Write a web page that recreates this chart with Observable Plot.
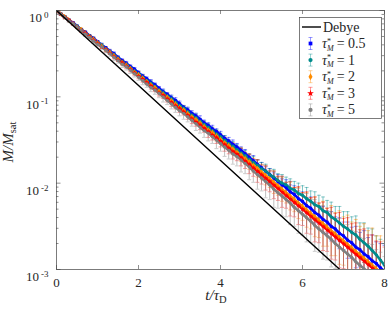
<!DOCTYPE html>
<html><head><meta charset="utf-8">
<script src="https://cdn.jsdelivr.net/npm/d3@7"></script>
<script src="https://cdn.jsdelivr.net/npm/@observablehq/plot@0.6"></script>
<style>body{margin:0;background:#fff}#chart svg{display:block}</style>
</head><body><div id="chart"></div>
<script>
// time grid (t / tau_D)
const tVals = [0,0.1,0.2,0.3,0.4,0.5,0.6,0.7,0.8,0.9,1,1.1,1.2,1.3,1.4,1.5,1.6,1.7,1.8,1.9,2,2.1,2.2,2.3,2.4,2.5,2.6,2.7,2.8,2.9,3,3.1,3.2,3.3,3.4,3.5,3.6,3.7,3.8,3.9,4,4.1,4.2,4.3,4.4,4.5,4.6,4.7,4.8,4.9,5,5.1,5.2,5.3,5.4,5.5,5.6,5.7,5.8,5.9,6,6.1,6.2,6.3,6.4,6.5,6.6,6.7,6.8,6.9,7,7.1,7.2,7.3,7.4,7.5,7.6,7.7,7.8,7.9,8];
// log10(M/Msat) for each tau*_M
const logM05 = [0,-0.04,-0.07,-0.11,-0.14,-0.18,-0.22,-0.25,-0.29,-0.32,-0.36,-0.40,-0.43,-0.47,-0.50,-0.54,-0.58,-0.61,-0.65,-0.68,-0.72,-0.76,-0.79,-0.83,-0.86,-0.90,-0.94,-0.97,-1.01,-1.04,-1.08,-1.12,-1.15,-1.19,-1.22,-1.26,-1.30,-1.33,-1.37,-1.40,-1.44,-1.48,-1.51,-1.55,-1.58,-1.62,-1.66,-1.70,-1.74,-1.78,-1.82,-1.86,-1.90,-1.94,-1.98,-2.02,-2.05,-2.10,-2.13,-2.18,-2.21,-2.26,-2.29,-2.34,-2.37,-2.42,-2.45,-2.50,-2.53,-2.58,-2.61,-2.66,-2.69,-2.74,-2.77,-2.82,-2.85,-2.90,-2.93,-2.98,-3.02];
const logM1 = [0,-0.04,-0.07,-0.11,-0.15,-0.18,-0.22,-0.26,-0.29,-0.33,-0.37,-0.40,-0.44,-0.48,-0.51,-0.55,-0.59,-0.62,-0.66,-0.70,-0.73,-0.77,-0.81,-0.84,-0.88,-0.92,-0.95,-0.99,-1.02,-1.06,-1.10,-1.13,-1.17,-1.21,-1.24,-1.28,-1.32,-1.35,-1.39,-1.43,-1.46,-1.50,-1.54,-1.57,-1.61,-1.65,-1.68,-1.72,-1.76,-1.79,-1.83,-1.86,-1.90,-1.93,-1.97,-2.00,-2.02,-2.06,-2.08,-2.12,-2.14,-2.18,-2.21,-2.25,-2.27,-2.32,-2.34,-2.39,-2.42,-2.46,-2.50,-2.53,-2.57,-2.60,-2.65,-2.69,-2.73,-2.78,-2.83,-2.89,-2.95];
const logM2 = [0,-0.04,-0.07,-0.11,-0.15,-0.19,-0.22,-0.26,-0.30,-0.33,-0.37,-0.41,-0.45,-0.48,-0.52,-0.56,-0.60,-0.63,-0.67,-0.71,-0.74,-0.78,-0.82,-0.86,-0.89,-0.93,-0.97,-1.00,-1.04,-1.08,-1.12,-1.15,-1.19,-1.23,-1.26,-1.30,-1.34,-1.38,-1.41,-1.45,-1.49,-1.53,-1.56,-1.60,-1.64,-1.67,-1.71,-1.75,-1.79,-1.83,-1.87,-1.91,-1.95,-1.99,-2.03,-2.07,-2.11,-2.15,-2.19,-2.23,-2.27,-2.31,-2.35,-2.39,-2.43,-2.47,-2.51,-2.55,-2.59,-2.63,-2.67,-2.71,-2.75,-2.79,-2.83,-2.87,-2.91,-2.95,-2.99,-3.03,-3.07];
const logM3 = [0,-0.04,-0.08,-0.11,-0.15,-0.19,-0.23,-0.26,-0.30,-0.34,-0.38,-0.42,-0.45,-0.49,-0.53,-0.57,-0.60,-0.64,-0.68,-0.72,-0.76,-0.79,-0.83,-0.87,-0.91,-0.95,-0.98,-1.02,-1.06,-1.10,-1.13,-1.17,-1.21,-1.25,-1.29,-1.32,-1.36,-1.40,-1.44,-1.47,-1.51,-1.55,-1.59,-1.63,-1.66,-1.70,-1.74,-1.78,-1.82,-1.86,-1.90,-1.94,-1.98,-2.02,-2.06,-2.10,-2.14,-2.18,-2.22,-2.26,-2.30,-2.34,-2.38,-2.42,-2.46,-2.50,-2.54,-2.58,-2.62,-2.66,-2.70,-2.74,-2.78,-2.82,-2.86,-2.90,-2.94,-2.98,-3.02,-3.06,-3.10];
const logM5 = [0,-0.04,-0.08,-0.12,-0.15,-0.19,-0.23,-0.27,-0.31,-0.35,-0.39,-0.42,-0.46,-0.50,-0.54,-0.58,-0.62,-0.65,-0.69,-0.73,-0.77,-0.81,-0.85,-0.89,-0.92,-0.96,-1.00,-1.04,-1.08,-1.12,-1.16,-1.19,-1.23,-1.27,-1.31,-1.35,-1.39,-1.42,-1.46,-1.50,-1.54,-1.58,-1.62,-1.66,-1.69,-1.73,-1.77,-1.81,-1.86,-1.90,-1.94,-1.98,-2.02,-2.07,-2.11,-2.15,-2.19,-2.23,-2.28,-2.32,-2.36,-2.40,-2.44,-2.49,-2.53,-2.57,-2.61,-2.65,-2.70,-2.74,-2.78,-2.82,-2.86,-2.91,-2.95,-2.99,-3.03,-3.07,-3.11,-3.16,-3.20];
// error bar half-widths (decades)
const err05 = [0,0.01,0.01,0.01,0.01,0.01,0.01,0.01,0.01,0.01,0.01,0.02,0.01,0.02,0.02,0.01,0.02,0.02,0.02,0.02,0.02,0.02,0.02,0.03,0.02,0.02,0.03,0.02,0.03,0.03,0.03,0.02,0.03,0.03,0.03,0.04,0.03,0.03,0.04,0.03,0.04,0.03,0.04,0.05,0.04,0.04,0.05,0.04,0.06,0.05,0.06,0.05,0.07,0.06,0.08,0.07,0.09,0.08,0.10,0.09,0.11,0.09,0.13,0.12,0.10,0.15,0.13,0.17,0.14,0.18,0.16,0.21,0.18,0.24,0.20,0.27,0.22,0.30,0.25,0.28,0.30];
const err1 = [0,0.01,0.01,0.01,0.01,0.01,0.01,0.02,0.01,0.02,0.02,0.02,0.01,0.02,0.02,0.02,0.02,0.02,0.02,0.03,0.02,0.03,0.02,0.03,0.03,0.02,0.03,0.03,0.03,0.03,0.03,0.03,0.04,0.03,0.04,0.03,0.04,0.04,0.04,0.05,0.04,0.05,0.04,0.05,0.06,0.05,0.06,0.05,0.07,0.06,0.07,0.08,0.07,0.09,0.08,0.10,0.09,0.11,0.10,0.12,0.11,0.13,0.12,0.15,0.13,0.16,0.14,0.17,0.15,0.19,0.17,0.20,0.18,0.22,0.19,0.23,0.21,0.25,0.22,0.24,0.25];
const err2 = [0,0.01,0.01,0.01,0.01,0.01,0.02,0.01,0.02,0.02,0.02,0.02,0.02,0.02,0.02,0.02,0.03,0.02,0.02,0.03,0.03,0.02,0.03,0.03,0.03,0.03,0.03,0.04,0.03,0.04,0.03,0.04,0.04,0.04,0.05,0.04,0.05,0.04,0.05,0.06,0.05,0.06,0.05,0.07,0.06,0.08,0.07,0.09,0.08,0.10,0.09,0.11,0.10,0.13,0.11,0.14,0.12,0.16,0.14,0.18,0.16,0.20,0.18,0.23,0.20,0.26,0.22,0.29,0.25,0.31,0.28,0.34,0.30,0.37,0.33,0.40,0.36,0.43,0.38,0.42,0.40];
const err3 = [0,0.01,0.01,0.01,0.02,0.01,0.02,0.02,0.02,0.02,0.02,0.02,0.03,0.02,0.03,0.02,0.03,0.03,0.03,0.03,0.03,0.04,0.03,0.04,0.03,0.04,0.04,0.04,0.05,0.04,0.05,0.04,0.05,0.06,0.05,0.06,0.05,0.07,0.06,0.07,0.07,0.08,0.07,0.09,0.08,0.10,0.09,0.11,0.10,0.13,0.11,0.14,0.12,0.16,0.14,0.18,0.15,0.20,0.17,0.22,0.19,0.24,0.21,0.26,0.23,0.28,0.25,0.30,0.27,0.32,0.29,0.34,0.31,0.36,0.32,0.37,0.34,0.38,0.35,0.38,0.36];
const err5 = [0,0.01,0.02,0.02,0.02,0.02,0.02,0.03,0.02,0.03,0.03,0.03,0.03,0.03,0.04,0.03,0.04,0.04,0.04,0.04,0.04,0.05,0.04,0.05,0.05,0.05,0.06,0.05,0.06,0.06,0.06,0.07,0.06,0.07,0.08,0.07,0.08,0.09,0.08,0.10,0.09,0.11,0.10,0.12,0.11,0.14,0.12,0.15,0.13,0.17,0.15,0.19,0.17,0.21,0.18,0.23,0.20,0.25,0.22,0.26,0.24,0.28,0.25,0.30,0.27,0.31,0.28,0.32,0.29,0.33,0.30,0.34,0.31,0.35,0.32,0.35,0.33,0.36,0.34,0.36,0.35];
// Debye reference exp(-t)
const debyeT = [0, 6.91];
const debyeM = [1, 0.001];
const tauLabels = ["0.5", "1", "2", "3", "5"];
const xTicks = [0, 2, 4, 6, 8];
const yTicks = [0.001, 0.01, 0.1, 1];
const yMinor = [0.002,0.003,0.004,0.005,0.006,0.007,0.008,0.009,0.02,0.03,0.04,0.05,0.06,0.07,0.08,0.09,0.2,0.3,0.4,0.5,0.6,0.7,0.8,0.9];

const colors = ["#0000ff", "#008b8b", "#ff8c00", "#ff0000", "#808080"];
const symbols = ["square", "circle", "diamond", "star", "circle"];
const logs = [logM05, logM1, logM2, logM3, logM5];
const errs = [err05, err1, err2, err3, err5];

const W = 390, H = 312, ML = 56, MR = 6, MT = 10, MB = 43;
const PW = W - ML - MR, PH = H - MT - MB;
const axisColor = "#444";
const FONT = "'Liberation Serif', 'DejaVu Serif', serif";

const series = logs.map((lg, k) => tVals.map((t, i) => ({
  t, y: 10 ** lg[i], lo: 10 ** (lg[i] - errs[k][i]), hi: 10 ** (lg[i] + errs[k][i]), k
})));
const debye = debyeT.map((t, i) => ({t, y: debyeM[i]}));

const cap = {draw(ctx, size) { const r = Math.sqrt(size / Math.PI); ctx.moveTo(-r, 0); ctx.lineTo(r, 0); }};

const marks = [];
series.forEach((rows, k) => {
  marks.push(Plot.ruleX(rows, {x: "t", y1: "lo", y2: "hi", stroke: colors[k], strokeOpacity: 0.5, strokeWidth: 1, clip: true}));
  marks.push(Plot.dot(rows, {x: "t", y: "lo", symbol: cap, r: 2, stroke: colors[k], strokeOpacity: 0.45, strokeWidth: 0.9, clip: true}));
  marks.push(Plot.dot(rows, {x: "t", y: "hi", symbol: cap, r: 2, stroke: colors[k], strokeOpacity: 0.45, strokeWidth: 0.9, clip: true}));
});
series.forEach((rows, k) => {
  marks.push(Plot.line(rows, {x: "t", y: "y", stroke: colors[k], strokeWidth: 2.6, clip: true}));
});
series.forEach((rows, k) => {
  marks.push(Plot.dot(rows, {x: "t", y: "y", symbol: symbols[k], r: 1.6, fill: colors[k], stroke: "none", clip: true}));
});
marks.push(Plot.line(debye, {x: "t", y: "y", stroke: "black", strokeWidth: 1.4, clip: true}));
// inward ticks
const tk = {stroke: axisColor, strokeWidth: 0.6};
marks.push(Plot.tickY(yTicks, {y: d => d, insetRight: PW - 4.5, ...tk}));
marks.push(Plot.tickY(yTicks, {y: d => d, insetLeft: PW - 4.5, ...tk}));
marks.push(Plot.tickY(yMinor, {y: d => d, insetRight: PW - 2.5, ...tk}));
marks.push(Plot.tickY(yMinor, {y: d => d, insetLeft: PW - 2.5, ...tk}));
marks.push(Plot.tickX(xTicks, {x: d => d, insetTop: PH - 4, ...tk}));
marks.push(Plot.tickX(xTicks, {x: d => d, insetBottom: PH - 4, ...tk}));
marks.push(Plot.axisX({ticks: xTicks, tickSize: 0, tickPadding: 8, label: null}));
marks.push(Plot.axisY({ticks: yTicks, tickSize: 0, tickPadding: 8, label: null,
  tickFormat: d => "10|" + Math.round(Math.log10(d))}));
marks.push(Plot.frame({stroke: axisColor, strokeWidth: 0.7}));

const svg = Plot.plot({
  width: W, height: H, marginLeft: ML, marginRight: MR, marginTop: MT, marginBottom: MB,
  style: {fontFamily: FONT, fontSize: "13px", color: "#262626", background: "white"},
  x: {domain: [0, 8]},
  y: {type: "log", domain: [0.001, 1]},
  marks
});
document.getElementById("chart").append(svg);

const S = d3.select(svg);
// superscript exponents for y tick labels
S.selectAll('[aria-label="y-axis tick label"] text').each(function() {
  const [b, e] = this.textContent.split("|");
  const t = d3.select(this);
  t.text(b).attr("dy", "0.6em");
  t.append("tspan").attr("dx", 2).attr("dy", -4.5).attr("font-size", 9).text(e);
});
// axis titles
const yl = S.append("text").attr("transform", "translate(13,142) rotate(-90)")
  .attr("text-anchor", "middle").attr("font-family", FONT).attr("font-size", 15).attr("fill", "#262626");
yl.append("tspan").attr("font-style", "italic").text("M/M");
yl.append("tspan").attr("font-size", 10.5).attr("dy", 3).text("sat");
const xl = S.append("text").attr("transform", "translate(216,300)")
  .attr("text-anchor", "middle").attr("font-family", FONT).attr("font-size", 15).attr("fill", "#262626");
xl.append("tspan").attr("font-style", "italic").text("t/τ");
xl.append("tspan").attr("font-size", 10.5).attr("dy", 3).text("D");

// legend
const lg = S.append("g").attr("font-size", 14).attr("font-family", FONT).attr("text-anchor", "start").attr("fill", "#262626");
lg.append("rect").attr("x", 299.5).attr("y", 17.5).attr("width", 82).attr("height", 101)
  .attr("fill", "white").attr("stroke", axisColor).attr("stroke-width", 0.7);
lg.append("line").attr("x1", 302).attr("x2", 321).attr("y1", 27).attr("y2", 27).attr("stroke", "black").attr("stroke-width", 1.4);
lg.append("text").attr("x", 323).attr("y", 31.5).text("Debye");
const d3sym = {square: d3.symbolSquare, circle: d3.symbolCircle, diamond: d3.symbolDiamond, star: d3.symbolStar};
tauLabels.forEach((lab, k) => {
  const cy = 43.5 + k * 16.6, cx = 310.5;
  lg.append("line").attr("x1", cx).attr("x2", cx).attr("y1", cy - 6).attr("y2", cy + 6).attr("stroke", colors[k]).attr("stroke-opacity", 0.5).attr("stroke-width", 0.8);
  [cy - 6, cy + 6].forEach(yy => lg.append("line").attr("x1", cx - 2).attr("x2", cx + 2).attr("y1", yy).attr("y2", yy).attr("stroke", colors[k]).attr("stroke-opacity", 0.5).attr("stroke-width", 0.8));
  lg.append("path").attr("transform", `translate(${cx},${cy})`).attr("d", d3.symbol(d3sym[symbols[k]], 14)()).attr("fill", colors[k]);
  const t = lg.append("text").attr("x", 322).attr("y", cy + 4.5);
  t.append("tspan").attr("font-style", "italic").text("τ");
  t.append("tspan").attr("font-size", 8).attr("dy", -4.5).text("*");
  t.append("tspan").attr("font-size", 8).attr("font-style", "italic").attr("dx", -4).attr("dy", 7).text("M");
  t.append("tspan").attr("dy", -2.5).attr("dx", 3).text("= " + lab);
});
</script></body></html>
